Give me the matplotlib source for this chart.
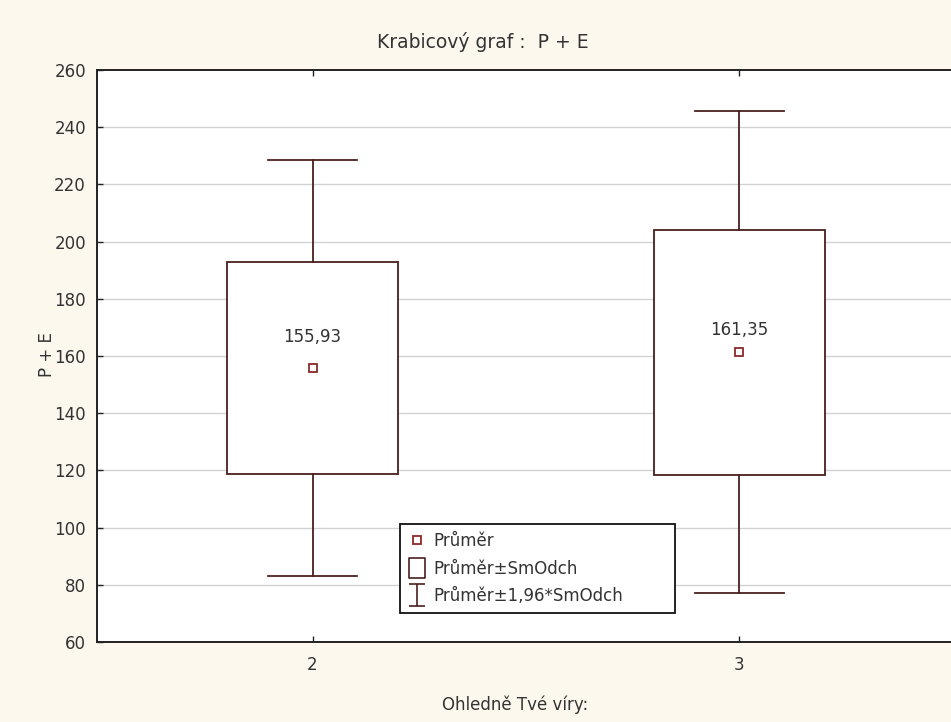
import numpy as np
import matplotlib
matplotlib.use("Agg")
import matplotlib.pyplot as plt
from matplotlib.lines import Line2D
from matplotlib.path import Path


# ===================== Data =====================
GROUPS = [2, 3]
MEANS = [155.93, 161.35]
MEAN_LABELS = ["155,93", "161,35"]
BOX_LOW = [118.8, 118.4]      # mean - SD
BOX_HIGH = [193.0, 204.2]     # mean + SD
WHISK_LOW = [83.2, 77.3]      # mean - 1.96*SD
WHISK_HIGH = [228.7, 245.5]   # mean + 1.96*SD
Y_TICKS = [60, 80, 100, 120, 140, 160, 180, 200, 220, 240, 260]

TITLE = "Krabicový graf :  P + E"
X_LABEL = "Ohledně Tvé víry:"
Y_LABEL = "P + E"
LEGEND_LABELS = ["Průměr", "Průměr±SmOdch", "Průměr±1,96*SmOdch"]

# ===================== Style =====================
BG = "#fcf8ee"
LINE = "#4a1f1f"
MARK = "#8b2a2a"
TXT = "#333333"
GRID = "#d2d2d2"
BOX_HALF = 0.2
CAP_HALF = 0.104
LABEL_OFFSET_PX = [31, 22]
FS = 12

plt.rcParams["font.family"] = ["DejaVu Sans"]
plt.rcParams["font.size"] = FS

W, H = 951, 722
fig = plt.figure(figsize=(W / 100, H / 100), dpi=100, facecolor=BG)
ax_left, ax_right, ax_top, ax_bot = 97, 957, 70, 642
ax = fig.add_axes([ax_left / W, 1 - ax_bot / H,
                   (ax_right - ax_left) / W, (ax_bot - ax_top) / H])
ax.set_facecolor("white")

ax.set_xlim(1.495, 3.51)
ax.set_ylim(60, 260)
ax.set_yticks(Y_TICKS)
ax.set_xticks(GROUPS)
ax.set_xticklabels([str(g) for g in GROUPS])

for y in Y_TICKS[1:-1]:
    ax.axhline(y, color=GRID, lw=1.0, zorder=0)

for i, g in enumerate(GROUPS):
    # box (mean +- SD)
    ax.add_patch(plt.Rectangle((g - BOX_HALF, BOX_LOW[i]), 2 * BOX_HALF,
                               BOX_HIGH[i] - BOX_LOW[i], facecolor="white",
                               edgecolor=LINE, lw=1.3, zorder=2))
    # whiskers (mean +- 1.96*SD)
    ax.plot([g, g], [BOX_HIGH[i], WHISK_HIGH[i]], color=LINE, lw=1.3, zorder=2)
    ax.plot([g, g], [WHISK_LOW[i], BOX_LOW[i]], color=LINE, lw=1.3, zorder=2)
    ax.plot([g - CAP_HALF, g + CAP_HALF], [WHISK_HIGH[i]] * 2, color=LINE, lw=1.3, zorder=2)
    ax.plot([g - CAP_HALF, g + CAP_HALF], [WHISK_LOW[i]] * 2, color=LINE, lw=1.3, zorder=2)
    # mean
    ax.plot(g, MEANS[i], marker="s", ms=6, mfc="white", mec=MARK, mew=1.3,
            ls="none", zorder=3)
    ax.annotate(MEAN_LABELS[i], (g, MEANS[i]), xytext=(0, LABEL_OFFSET_PX[i] * 0.72),
                textcoords="offset points", ha="center", va="center",
                color=TXT, fontsize=FS, zorder=4)

ax.tick_params(direction="in", length=4, width=1, colors="#222222",
               labelcolor=TXT, labelsize=FS, top=True, right=True)
ax.tick_params(axis="y", pad=8)
ax.tick_params(axis="x", pad=10)
for s in ax.spines.values():
    s.set_linewidth(1.4)
    s.set_color("#222222")

fig.text(483 / W, 1 - 42 / H, TITLE, ha="center", va="center", color=TXT, fontsize=13.5)
fig.text(515 / W, 1 - 705 / H, X_LABEL, ha="center", va="center", color=TXT, fontsize=FS)
fig.text(47 / W, 1 - 355 / H, Y_LABEL, ha="center", va="center", rotation=90,
         color=TXT, fontsize=FS)

# legend handles
rect_path = Path([(-0.4, -0.5), (0.4, -0.5), (0.4, 0.5), (-0.4, 0.5), (-0.4, -0.5)],
                 [Path.MOVETO, Path.LINETO, Path.LINETO, Path.LINETO, Path.CLOSEPOLY])
ibar_path = Path([(-0.35, 0.5), (0.35, 0.5), (0, 0.5), (0, -0.5), (-0.35, -0.5), (0.35, -0.5)],
                 [Path.MOVETO, Path.LINETO, Path.MOVETO, Path.LINETO, Path.MOVETO, Path.LINETO])
handles = [
    Line2D([], [], marker="s", ms=6, mfc="white", mec=MARK, mew=1.3, ls="none"),
    Line2D([], [], marker=rect_path, ms=15, mfc="none", mec=LINE, mew=1.2, ls="none"),
    Line2D([], [], marker=ibar_path, ms=16, mfc="none", mec=LINE, mew=1.2, ls="none"),
]
aw, ah = ax_right - ax_left, ax_bot - ax_top
leg = ax.legend(handles, LEGEND_LABELS, loc="lower left", mode="expand",
                bbox_to_anchor=((400 - ax_left) / aw, (ax_bot - 613) / ah,
                                275 / aw, 93 / ah),
                frameon=True, fancybox=False, edgecolor="#111111", framealpha=1,
                handlelength=1.0, handletextpad=0.5, labelspacing=0.55,
                borderpad=0.5, borderaxespad=0, fontsize=FS, labelcolor=TXT)
leg.get_frame().set_linewidth(1.3)

fig.savefig("out.png", dpi=100, facecolor=BG)
